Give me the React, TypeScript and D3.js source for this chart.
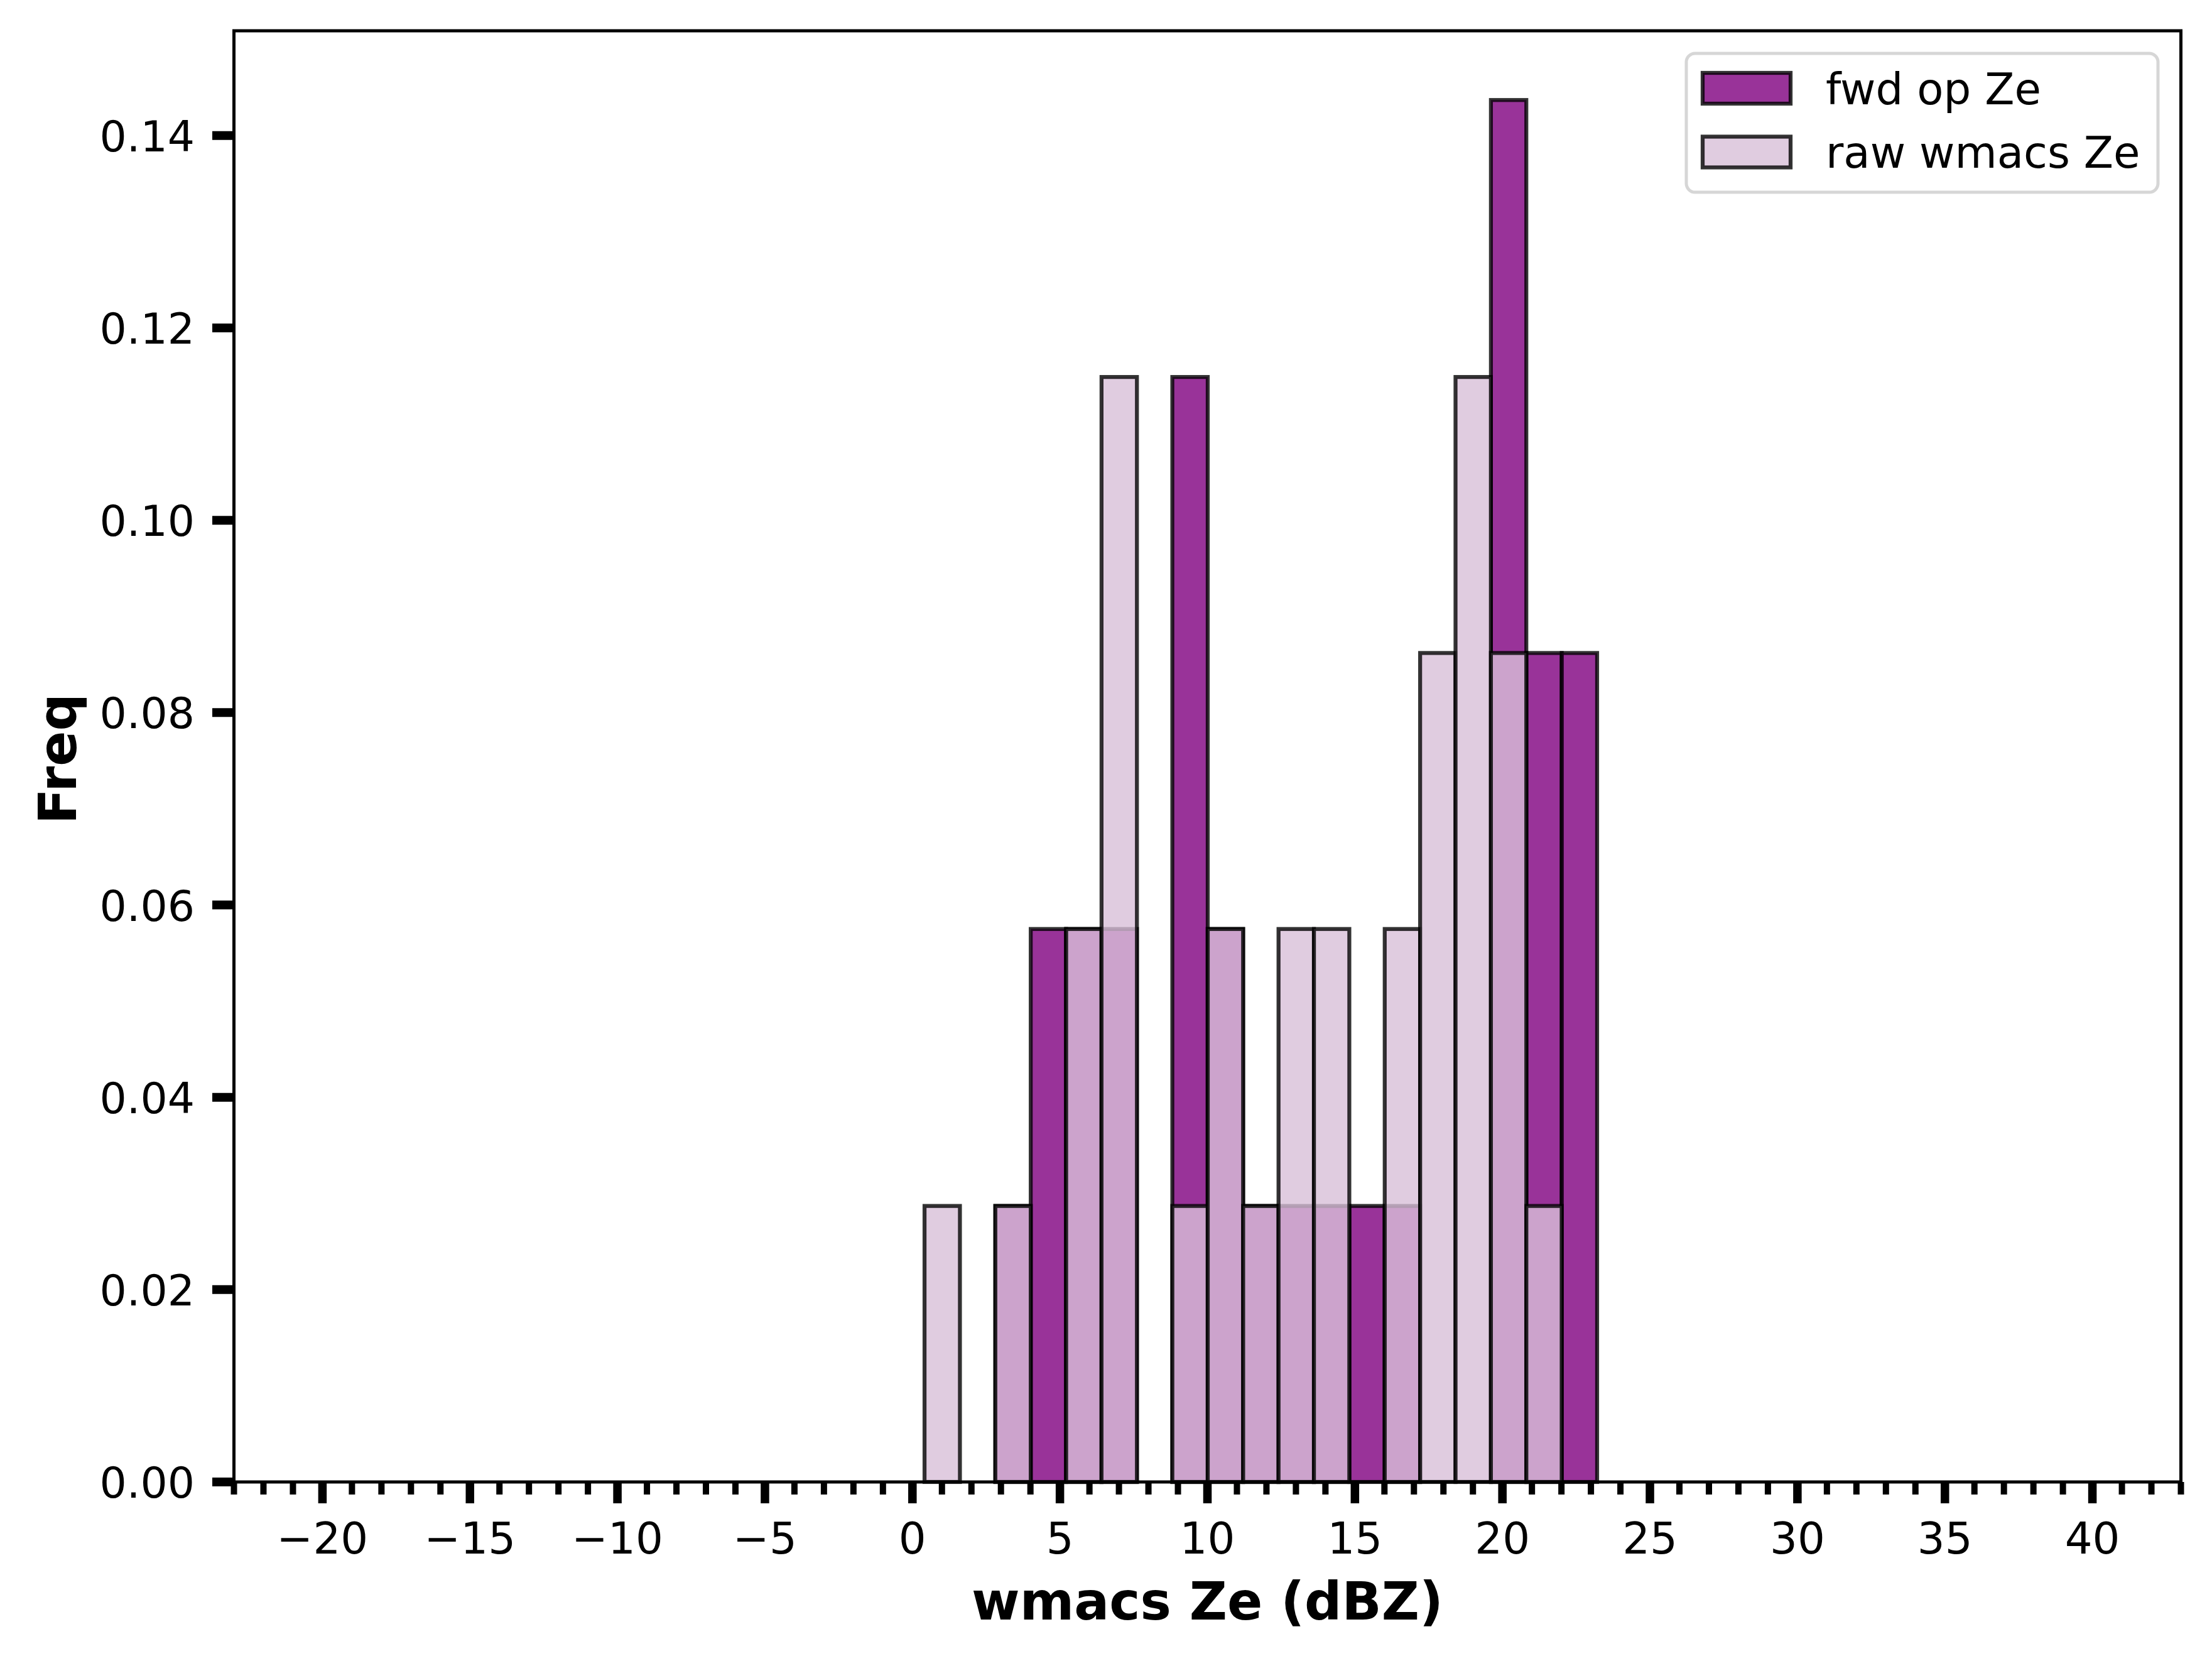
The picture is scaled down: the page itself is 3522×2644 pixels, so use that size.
import * as d3 from "d3";

// histogram bins (dBZ), shared by both series
const binEdges = [
  0.41, 1.61, 2.81, 4.01, 5.21, 6.41, 7.61, 8.81, 10.01, 11.21, 12.41, 13.61,
  14.81, 16.01, 17.21, 18.41, 19.61, 20.81, 22.01, 23.21
];
// density per bin
const fwdOpZe = [
  0, 0, 0.0287, 0.0575, 0.0575, 0.0575, 0, 0.1149, 0.0575, 0.0287, 0.0287,
  0.0287, 0.0287, 0.0287, 0, 0, 0.1437, 0.0862, 0.0862
];
const rawWmacsZe = [
  0.0287, 0, 0.0287, 0, 0.0575, 0.1149, 0, 0.0287, 0.0575, 0.0287, 0.0575,
  0.0575, 0, 0.0575, 0.0862, 0.1149, 0.0862, 0.0287, 0
];
const seriesNames = ["fwd op Ze", "raw wmacs Ze"];
const xTickValues = [-20, -15, -10, -5, 0, 5, 10, 15, 20, 25, 30, 35, 40];
const yTickValues = [0, 0.02, 0.04, 0.06, 0.08, 0.1, 0.12, 0.14];
const xDomain = [-23, 43];
const yDomain = [0, 0.1509];

const FONT = "DejaVu Sans";

export default function App() {
  const width = 3522;
  const height = 2644;
  const left = 372.5;
  const right = 3472.5;
  const top = 49;
  const bottom = 2359;

  const x = d3.scaleLinear().domain(xDomain).range([left, right]);
  const y = d3.scaleLinear().domain(yDomain).range([bottom, top]);

  const minorTicks = d3
    .range(Math.ceil(xDomain[0]), Math.floor(xDomain[1]) + 1)
    .filter((v) => v % 5 !== 0);

  const styles = [
    { fill: "purple", label: seriesNames[0], values: fwdOpZe },
    { fill: "thistle", label: seriesNames[1], values: rawWmacsZe }
  ];

  const fmtX = (v: number) => (v < 0 ? `\u2212${Math.abs(v)}` : `${v}`);

  // legend layout
  const legRight = right - 36.5;
  const legTop = top + 36;
  const legW = 751;
  const legH = 221;
  const legX = legRight - legW;

  return (
    <svg
      width={width}
      height={height}
      viewBox={`0 0 ${width} ${height}`}
      style={{ position: "absolute", left: 0, top: 0, background: "#fff" }}
      fontFamily={FONT}
    >
      <rect x={0} y={0} width={width} height={height} fill="#fff" />

      {styles.map((s) => (
        <g key={s.label}>
          {s.values.map((v, i) =>
            v > 0 ? (
              <rect
                key={i}
                x={x(binEdges[i])}
                width={x(binEdges[i + 1]) - x(binEdges[i])}
                y={y(v)}
                height={y(0) - y(v)}
                fill={s.fill}
                fillOpacity={0.8}
                stroke="#000"
                strokeOpacity={0.8}
                strokeWidth={6.25}
              />
            ) : null
          )}
        </g>
      ))}

      {/* spines */}
      <rect
        x={left}
        y={top}
        width={right - left}
        height={bottom - top}
        fill="none"
        stroke="#000"
        strokeWidth={5}
      />

      {/* x ticks */}
      {minorTicks.map((t) => (
        <line key={`m${t}`} x1={x(t)} x2={x(t)} y1={bottom} y2={bottom + 20} stroke="#000" strokeWidth={10} />
      ))}
      {xTickValues.map((t) => (
        <g key={`x${t}`}>
          <line x1={x(t)} x2={x(t)} y1={bottom} y2={bottom + 34} stroke="#000" strokeWidth={13.5} />
          <text x={x(t)} y={2472.5} fontSize={69} textAnchor="middle" fill="#000">
            {fmtX(t)}
          </text>
        </g>
      ))}

      {/* y ticks */}
      {yTickValues.map((t) => (
        <g key={`y${t}`}>
          <line x1={left - 34.5} x2={left} y1={y(t)} y2={y(t)} stroke="#000" strokeWidth={14} />
          <text x={310} y={y(t) + 25} fontSize={68} textAnchor="end" fill="#000">
            {t.toFixed(2)}
          </text>
        </g>
      ))}

      {/* axis labels */}
      <text
        x={(left + right) / 2}
        y={2578}
        fontSize={83}
        fontWeight="bold"
        textAnchor="middle"
        fill="#000"
      >
        wmacs Ze (dBZ)
      </text>
      <text
        transform={`translate(121,${(top + bottom) / 2 + 4}) rotate(-90)`}
        fontSize={83}
        fontWeight="bold"
        textAnchor="middle"
        fill="#000"
      >
        Freq
      </text>

      {/* legend */}
      <rect
        x={legX}
        y={legTop}
        width={legW}
        height={legH}
        rx={14}
        fill="#fff"
        fillOpacity={0.8}
        stroke="#cccccc"
        strokeOpacity={0.8}
        strokeWidth={5}
      />
      {styles.map((s, i) => {
        const cy = legTop + 55.5 + i * 101.5;
        return (
          <g key={`leg${s.label}`}>
            <rect
              x={legX + 26}
              y={cy - 24.5}
              width={140}
              height={49}
              fill={s.fill}
              fillOpacity={0.8}
              stroke="#000"
              strokeOpacity={0.8}
              strokeWidth={6.25}
            />
            <text x={legX + 222} y={cy + 25} fontSize={69} fill="#000">
              {s.label}
            </text>
          </g>
        );
      })}
    </svg>
  );
}
